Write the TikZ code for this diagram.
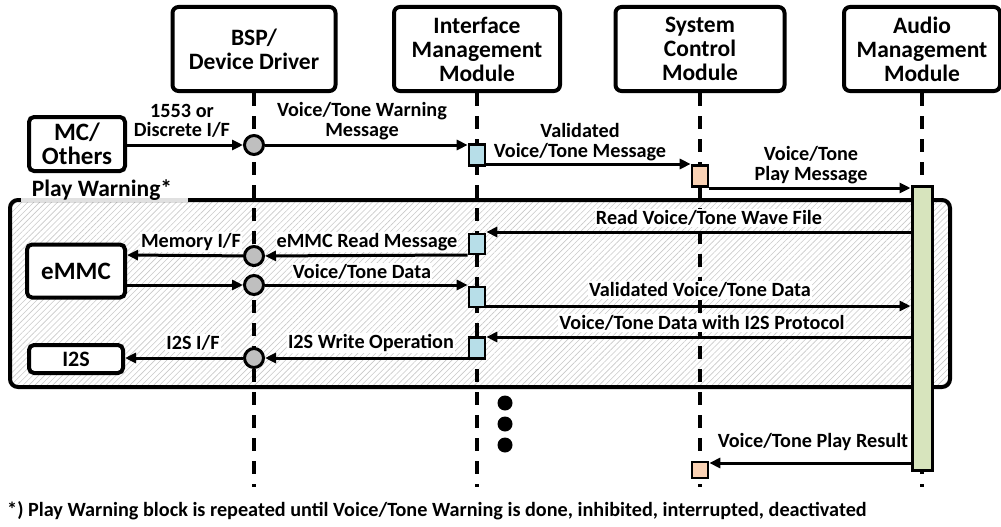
\documentclass[tikz,border=0pt]{standalone}
\usepackage{fontspec}
\setmainfont{Carlito}
\usetikzlibrary{arrows.meta,patterns.meta}

\definecolor{ifblue}{RGB}{183,222,232}
\definecolor{scpeach}{RGB}{250,210,180}
\definecolor{amgreen}{RGB}{215,228,189}
\definecolor{dotgray}{RGB}{191,191,191}
\definecolor{hatchgray}{RGB}{200,200,200}

\tikzset{
  head/.style={draw, line width=4pt, rounded corners=6pt, fill=white, align=center,
    font=\fontsize{23.5}{24}\selectfont\bfseries, inner sep=0pt},
  ext/.style={draw, line width=4pt, rounded corners=5pt, fill=white, align=center,
    font=\fontsize{25}{24}\selectfont\bfseries, inner sep=0pt},
  life/.style={line width=3.2pt, dash pattern=on 13pt off 10pt},
  msg/.style={line width=3pt, -{Triangle[length=11pt,width=10pt]}},
  lbl/.style={font=\fontsize{20.2}{19.5}\selectfont\bfseries, align=center, inner sep=1pt},
  wlbl/.style={lbl, fill=white},
  hub/.style={circle, draw, line width=3pt, fill=dotgray, minimum size=19pt, inner sep=0pt},
  ifact/.style={rectangle, draw, line width=2.6pt, fill=ifblue, minimum width=16pt, minimum height=20pt, inner sep=0pt},
  scact/.style={rectangle, draw, line width=2.6pt, fill=scpeach, minimum width=16pt, minimum height=20pt, inner sep=0pt},
  amact/.style={rectangle, draw, line width=3pt, fill=amgreen, minimum width=20pt, minimum height=284pt, inner sep=0pt},
}

\begin{document}
\begin{tikzpicture}[x=1pt,y=-1pt]
\useasboundingbox (0,0) rectangle (1001,527);

% message rows
\coordinate (rA) at (0,145);
\coordinate (rB) at (0,164);
\coordinate (rC) at (0,188);
\coordinate (rD) at (0,232);
\coordinate (rE) at (0,255);
\coordinate (rF) at (0,285);
\coordinate (rG) at (0,306);
\coordinate (rH) at (0,337);
\coordinate (rI) at (0,358);
\coordinate (rJ) at (0,463);
\coordinate (rEnd) at (0,487);

% hatched loop frame (fill only)
\path[pattern={Lines[angle=45,distance=4.2pt,line width=0.6pt]}, pattern color=hatchgray,
  rounded corners=8pt] (10,200) rectangle (950,387);

% lifeline heads
\node[head, minimum width=163pt, minimum height=84pt] (bsp) at (254,49) {BSP/\\Device Driver};
\node[head, minimum width=166pt, minimum height=84pt] (imm) at (477,49) {Interface\\Management\\Module};
\node[head, minimum width=169pt, minimum height=84pt] (scm) at (700,49) {System\\Control\\Module};
\node[head, minimum width=156pt, minimum height=84pt] (amm) at (922,49) {Audio\\Management\\Module};

% lifelines
\draw[life] (bsp.south) -- (bsp.south |- rEnd);
\draw[life] (imm.south) -- (imm.south |- rEnd);
\draw[life] (scm.south) -- (scm.south |- rEnd);
\draw[life] (amm.south) -- (amm.south |- rEnd);

% loop frame border and title tab
\draw[line width=4pt, rounded corners=8pt] (10,200) rectangle (950,387);
\draw[line width=4pt, color=black!12] (21,200) -- (188,200);
\node[font=\fontsize{23.5}{24}\selectfont\bfseries, inner sep=0pt] (pw) at (102,190) {Play Warning*};

% external endpoints
\node[ext, minimum width=96pt, minimum height=54pt] (mc) at (77,144) {MC/\\Others};
\node[ext, minimum width=98pt, minimum height=53pt] (emmc) at (76,271) {eMMC};
\node[ext, minimum width=94pt, minimum height=28pt, font=\fontsize{22}{24}\selectfont\bfseries] (i2s) at (76,359) {I2S};

% hubs and activations
\node[hub] (c1) at (bsp.south |- rA) {};
\node[hub] (c2) at (254,256) {};
\node[hub] (c3) at (bsp.south |- rF) {};
\node[hub] (c4) at (bsp.south |- rI) {};
\node[ifact, minimum height=21pt] (s1) at (477,155) {};
\node[ifact] (s2) at (477,244) {};
\node[ifact] (s3) at (477,297) {};
\node[ifact, minimum height=21pt] (s4) at (477,348) {};
\node[scact, minimum height=21pt] (ss1) at (700,176) {};
\node[scact, minimum height=16pt] (ss2) at (700,470) {};

% labels
\node[lbl] (l1) at (182,121) {1553 or\\Discrete I/F};
\node[lbl] (l2) at (362,121) {Voice/Tone Warning\\Message};
\node[lbl] (l3) at (580,142) {Validated\\Voice/Tone Message};
\node[lbl] (l4) at (811,165) {Voice/Tone\\Play Message};
\node[wlbl] (l5) at (709,218) {Read Voice/Tone Wave File};
\node[wlbl] (l6) at (191,242) {Memory I/F};
\node[wlbl] (l7) at (367,242) {eMMC Read Message};
\node[wlbl] (l8) at (362,272) {Voice/Tone Data};
\node[wlbl] (l9) at (700,290) {Validated Voice/Tone Data};
\node[wlbl] (l10) at (702,323) {Voice/Tone Data with I2S Protocol};
\node[wlbl] (l11) at (371,343) {I2S Write Operation};
\node[wlbl] (l12) at (193,343) {I2S I/F};
\node[lbl] (l13) at (813,442) {Voice/Tone Play Result};

% messages
\draw[msg] (mc.east |- rA) -- (c1);
\draw[msg] (c1) -- (s1.west |- rA);
\draw[msg] (s1.east |- rB) -- (ss1.west |- rB);
\node[amact] (bar) at (922,328) {};
\draw[msg] (ss1.east |- rC) -- (bar.west |- rC);
\draw[msg] (bar.west |- rD) -- (s2.east |- rD);
\draw[msg] (s2.west |- rE) -- (c2);
\draw[msg] (c2) -- (emmc.east |- rE);
\draw[msg] (emmc.east |- rF) -- (c3);
\draw[msg] (c3) -- (s3.west |- rF);
\draw[msg] (s3.east |- rG) -- (bar.west |- rG);
\draw[msg] (bar.west |- rH) -- (s4.east |- rH);
\draw[msg] (s4.west |- rI) -- (c4);
\draw[msg] (c4) -- (i2s.east |- rI);
\draw[msg] (bar.west |- rJ) -- (ss2.east |- rJ);

% continuation dots
\fill (505,403) circle (7.5pt);
\fill (505,424) circle (7.5pt);
\fill (505,445) circle (7.5pt);

% footnote
\node[anchor=west, font=\fontsize{20.2}{21}\selectfont\bfseries, inner sep=0pt] (note) at (7,511)
  {*) Play Warning block is repeated until Voice/Tone Warning is done, inhibited, interrupted, deactivated};
\end{tikzpicture}
\end{document}
